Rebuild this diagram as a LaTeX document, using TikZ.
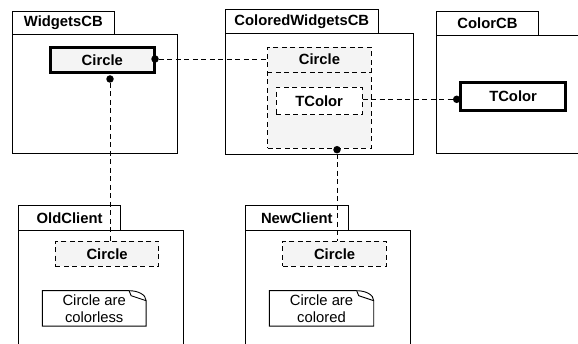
\documentclass[tikz,border=0pt]{standalone}
\usepackage{fontspec}
\setmainfont{Liberation Sans}
\usetikzlibrary{calc}
\definecolor{boxgray}{RGB}{244,244,244}
\tikzset{
  base/.style={draw, line width=0.9pt, inner sep=0pt, anchor=north west,
    font=\fontsize{14.8}{17}\selectfont\bfseries},
  pkgtab/.style={base, fill=white},
  pkgbody/.style={base, fill=white},
  thickbox/.style={base, line width=2.6pt},
  dashbox/.style={base, dash pattern=on 5pt off 3.5pt},
  conn/.style={line width=0.9pt, dash pattern=on 5pt off 3.5pt},
  dotnode/.style={circle, fill=black, inner sep=0pt, minimum size=7.5pt},
  notebox/.style={inner sep=0pt, anchor=north west, align=center,
    font=\fontsize{14.8}{17}\selectfont},
  noteline/.style={line width=0.9pt},
}
\newcommand\drawmynote[1]{%
  \draw[noteline] ([xshift=-17pt]#1.north east) -- (#1.north west) -- (#1.south west)
    -- (#1.south east) -- ([yshift=-10pt]#1.north east)
    .. controls ([yshift=-4pt]#1.north east) and ([xshift=-8pt]#1.north east) .. ([xshift=-17pt]#1.north east);
  \draw[noteline] ([xshift=-17pt]#1.north east) -- ([xshift=-15pt,yshift=-5pt]#1.north east)
    -- ([yshift=-10pt]#1.north east);}
\begin{document}
\begin{tikzpicture}[x=1pt,y=-1pt]
\useasboundingbox (0,0) rectangle (578,344);
\clip (0,0) rectangle (578,344);
% packages: bodies
\node[pkgbody, minimum width=165pt, minimum height=119pt] (wb) at (11.7,34.3) {};
\node[pkgtab, minimum width=102.3pt, minimum height=23.6pt] (wt) at (11.7,10.7) {WidgetsCB};
\node[pkgbody, minimum width=187.5pt, minimum height=121pt] (cwb) at (225,33.3) {};
\node[pkgtab, minimum width=152.7pt, minimum height=23.8pt] (cwt) at (225,9.5) {ColoredWidgetsCB};
\node[pkgbody, minimum width=170pt, minimum height=118.3pt] (cb) at (435.7,35) {};
\node[pkgtab, minimum width=102.6pt, minimum height=24.3pt] (ct) at (435.7,10.7) {ColorCB};
\node[pkgbody, minimum width=165pt, minimum height=130pt] (ob) at (18.3,230) {};
\node[pkgtab, minimum width=101.7pt, minimum height=25pt] (ot) at (18.3,205) {OldClient};
\node[pkgbody, minimum width=165pt, minimum height=130pt] (nb) at (245,230) {};
\node[pkgtab, minimum width=102.7pt, minimum height=25pt] (nt) at (245,205) {NewClient};
% classes
\node[thickbox, fill=boxgray, minimum width=104pt, minimum height=25pt] (wc) at (49,46) {Circle};
\node[dashbox, fill=boxgray, minimum width=103.4pt, minimum height=101pt] (cc) at (267.3,46.7) {};
\draw[dash pattern=on 5pt off 3.5pt, line width=0.9pt]
  ([yshift=-25.6pt]cc.north west) -- ([yshift=-25.6pt]cc.north east);
\node[font=\fontsize{14.8}{17}\selectfont\bfseries, inner sep=0pt] (ccl) at ([yshift=-13pt]cc.north) {Circle};
\node[dashbox, fill=white, minimum width=86pt, minimum height=27.6pt] (ti) at (275.7,86.7) {TColor};
\node[thickbox, fill=white, minimum width=105pt, minimum height=28.3pt] (tc) at (459.3,81) {TColor};
\node[dashbox, fill=boxgray, minimum width=103.3pt, minimum height=25.3pt] (oc) at (55,240.7) {Circle};
\node[dashbox, fill=boxgray, minimum width=103.7pt, minimum height=25.3pt] (nc) at (282.3,240.7) {Circle};
% notes
\node[notebox, minimum width=103.4pt, minimum height=35pt] (on) at (42.3,290.7) {Circle are\\colorless};
\drawmynote{on}
\node[notebox, minimum width=104pt, minimum height=35pt] (nn) at (269.3,290.7) {Circle are\\colored};
\drawmynote{nn}
% connectors
\node[dotnode] (dA) at (155,59) {};
\draw[conn] (dA) -- (dA -| cc.west);
\node[dotnode] (dB) at (110,79) {};
\draw[conn] (dB) -- (dB |- oc.north);
\node[dotnode] (dC) at (337,149.7) {};
\draw[conn] (dC) -- (dC |- nc.north);
\node[dotnode] (dD) at (456.7,99.3) {};
\draw[conn] (ti.east |- dD) -- (dD);
\end{tikzpicture}
\end{document}
